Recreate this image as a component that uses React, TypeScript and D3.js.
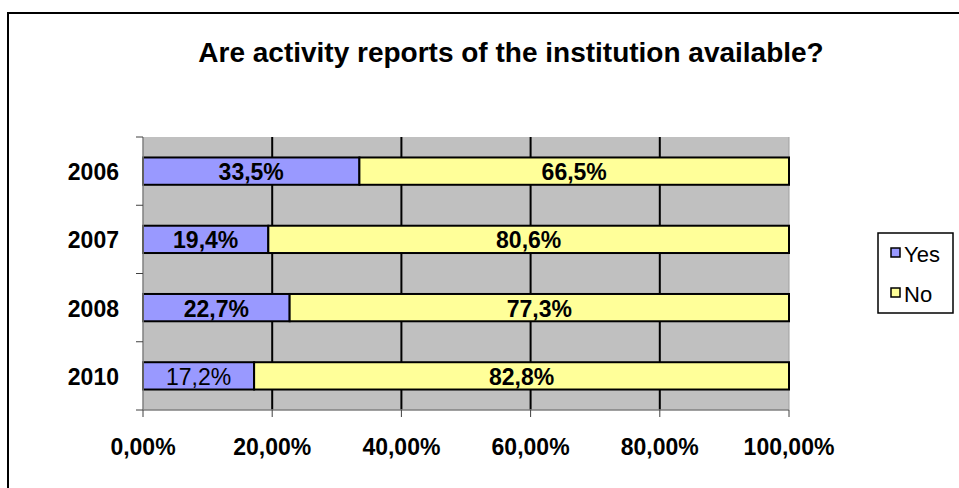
import React from "react";
import * as d3 from "d3";

const categories = ["2006", "2007", "2008", "2010"];
const yesValues = [33.5, 19.4, 22.7, 17.2];
const noValues = [66.5, 80.6, 77.3, 82.8];
const yesBold = [true, true, true, false];
const xTicks = [0, 20, 40, 60, 80, 100];
const seriesNames = ["Yes", "No"];
const seriesColors = ["#9999FF", "#FFFF99"];
const title = "Are activity reports of the institution available?";

const fmt = (v: number) => v.toFixed(1).replace(".", ",") + "%";
const fmtTick = (v: number) => v.toFixed(2).replace(".", ",") + "%";

export default function App() {
  const W = 959, H = 488;
  const left = 143, right = 789, top = 137, bottom = 410;
  const x = d3.scaleLinear().domain([0, 100]).range([left, right]);
  const y = d3.scaleBand().domain(categories).range([top, bottom]).paddingInner(0.6).paddingOuter(0.3);
  const yb = d3.scaleBand().domain(categories).range([top, bottom]);
  const font = "'Liberation Sans', Arial, sans-serif";
  return (
    <svg width={W} height={H} style={{ position: "absolute", left: 0, top: 0 }} fontFamily={font}>
      <rect x={0} y={0} width={W} height={H} fill="#fff" />
      <rect x={8} y={13} width={W + 10} height={H + 10} fill="none" stroke="#000" strokeWidth={2} />
      <text x={511} y={62} textAnchor="middle" fontSize={28} fontWeight="bold">{title}</text>
      <rect x={left} y={top} width={right - left} height={bottom - top} fill="#C0C0C0" />
      {xTicks.slice(1, -1).map((t) => (
        <line key={t} x1={x(t)} x2={x(t)} y1={top} y2={bottom} stroke="#000" strokeWidth={2} />
      ))}
      <line x1={right} x2={right} y1={top} y2={bottom} stroke="#a0a0a0" strokeWidth={1} />
      {categories.map((c, i) => {
        const by = y(c)!;
        const bh = y.bandwidth();
        const cy = by + bh / 2;
        return (
          <g key={c}>
            <rect x={x(0)} y={by} width={x(yesValues[i]) - x(0)} height={bh} fill={seriesColors[0]} stroke="#000" strokeWidth={2} />
            <rect x={x(yesValues[i])} y={by} width={x(yesValues[i] + noValues[i]) - x(yesValues[i])} height={bh} fill={seriesColors[1]} stroke="#000" strokeWidth={2} />
            <text x={(x(0) + x(yesValues[i])) / 2} y={cy + 9} textAnchor="middle" fontSize={23} fontWeight={yesBold[i] ? "bold" : "normal"}>{fmt(yesValues[i])}</text>
            <text x={(x(yesValues[i]) + x(100)) / 2} y={cy + 9} textAnchor="middle" fontSize={23} fontWeight="bold">{fmt(noValues[i])}</text>
            <text x={119} y={cy + 9} textAnchor="end" fontSize={23} fontWeight="bold">{c}</text>
          </g>
        );
      })}
      <line x1={left} x2={left} y1={top} y2={bottom} stroke="#808080" strokeWidth={1.5} />
      {[...categories.map((c) => yb(c)!), bottom].map((t, i) => (
        <line key={i} x1={left - 7} x2={left} y1={t} y2={t} stroke="#404040" strokeWidth={1} />
      ))}
      <line x1={left} x2={right} y1={bottom} y2={bottom} stroke="#808080" strokeWidth={1.5} />
      {xTicks.map((t) => (
        <g key={t}>
          <line x1={x(t)} x2={x(t)} y1={bottom} y2={bottom + 7} stroke="#404040" strokeWidth={1} />
          <text x={x(t)} y={455} textAnchor="middle" fontSize={23} fontWeight="bold">{fmtTick(t)}</text>
        </g>
      ))}
      <rect x={878} y={233} width={75} height={80} fill="#fff" stroke="#000" strokeWidth={1.5} />
      {seriesNames.map((s, i) => (
        <g key={s}>
          <rect x={891} y={248 + i * 40} width={9} height={9} fill={seriesColors[i]} stroke="#000" strokeWidth={1.5} />
          <text x={904} y={262 + i * 40} fontSize={22}>{s}</text>
        </g>
      ))}
    </svg>
  );
}
